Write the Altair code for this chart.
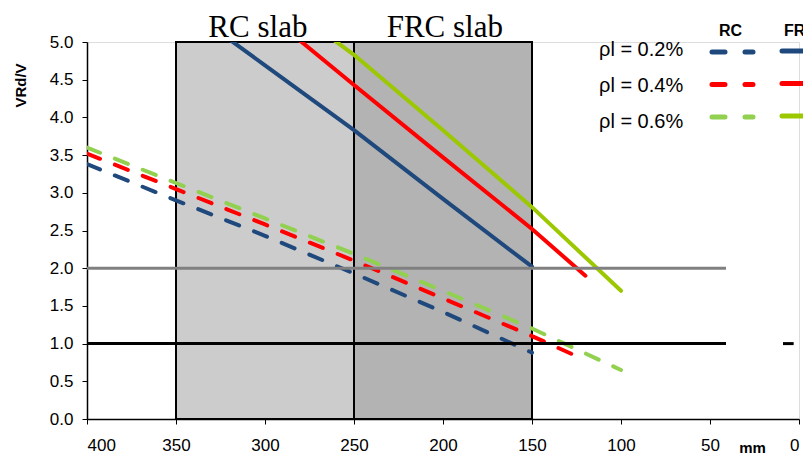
import altair as alt
import pandas as pd

# ---- data ----
rc_x_02 = [400, 350, 300, 250, 200, 150]
rc_y_02 = [3.38, 2.90, 2.43, 1.93, 1.42, 0.88]
rc_x_04 = [400, 350, 300, 250, 200, 150, 120]
rc_y_04 = [3.52, 3.05, 2.58, 2.10, 1.60, 1.10, 0.78]
rc_x_06 = [400, 350, 300, 250, 200, 150, 100]
rc_y_06 = [3.60, 3.13, 2.66, 2.19, 1.70, 1.20, 0.65]

frc_x_02 = [350, 300, 250, 200, 150]
frc_y_02 = [5.55, 4.69, 3.83, 2.92, 2.02]
frc_x_04 = [300, 250, 200, 150, 120]
frc_y_04 = [5.40, 4.43, 3.47, 2.52, 1.90]
frc_x_06 = [300, 250, 200, 150, 100]
frc_y_06 = [5.70, 4.83, 3.83, 2.81, 1.70]

series_names = ["ρl = 0.2%", "ρl = 0.4%", "ρl = 0.6%"]

slab_names = ["RC slab", "FRC slab"]
slab_from = [350, 250]
slab_to = [250, 150]
slab_title_at = [304, 199]

ref_levels = [2.0, 1.0]
ref_from = [400, 400]
ref_to = [41, 41]

x_ticks = [400, 350, 300, 250, 200, 150, 100, 50, 0]
y_ticks = [0.0, 0.5, 1.0, 1.5, 2.0, 2.5, 3.0, 3.5, 4.0, 4.5, 5.0]

# ---- styles ----
rc_colors = ["#1F497D", "#FF0000", "#92D050"]
frc_colors = ["#1F497D", "#FF0000", "#9BC800"]
slab_fills = ["#CCCCCC", "#B3B3B3"]
ref_colors = ["#808080", "#000000"]

def long_df(xs_list, ys_list, names):
    rows = []
    for xs, ys, n in zip(xs_list, ys_list, names):
        for x, y in zip(xs, ys):
            rows.append({"x": x, "y": y, "series": n})
    return pd.DataFrame(rows)

rc_df = long_df([rc_x_02, rc_x_04, rc_x_06], [rc_y_02, rc_y_04, rc_y_06], series_names)
frc_df = long_df([frc_x_02, frc_x_04, frc_x_06], [frc_y_02, frc_y_04, frc_y_06], series_names)

slab_df = pd.DataFrame({"name": slab_names, "x1": slab_from, "x2": slab_to,
                        "mid": slab_title_at, "fill": slab_fills,
                        "zero": [0, 0], "top": [5, 5]})
ref_df = pd.DataFrame({"level": ref_levels, "x1": ref_from, "x2": ref_to, "c": ref_colors})
mark_df = pd.DataFrame({"level": [1.0], "x1": [9], "x2": [3]})

xscale = alt.Scale(domain=[400, 0], nice=False, zero=False)
yscale = alt.Scale(domain=[0, 5], nice=False)

xaxis = alt.Axis(values=x_ticks, title="mm", titleFontWeight="bold", titleFontSize=15,
                 titleX=665, titleY=28, titleBaseline="middle", titleAlign="center",
                 labelOverlap=False)
yaxis = alt.Axis(values=y_ticks, format=".1f", title="VRd/V", titleFontWeight="bold",
                 titleFontSize=15, titleAngle=270, titleX=-67, titleY=43,
                 titleAlign="center", titleBaseline="middle", labelOverlap=False,
                 tickCount=11)

def X(field):
    return alt.X(field, scale=xscale, axis=xaxis)

def Y(field):
    return alt.Y(field, scale=yscale, axis=yaxis)

rects = alt.Chart(slab_df).mark_rect(stroke="black", strokeWidth=2).encode(
    x=X("x1:Q"),
    x2="x2:Q",
    y=Y("zero:Q"),
    y2="top:Q",
    color=alt.Color("fill:N", scale=None),
)

slab_titles = alt.Chart(slab_df).mark_text(font="Liberation Serif", fontSize=31,
                                           baseline="alphabetic", color="black").encode(
    x=X("mid:Q"),
    y=alt.value(-5),
    text="name:N",
)

rc_lines = alt.Chart(rc_df).mark_line(strokeWidth=4, strokeDash=[14, 16], strokeCap="round",
                                      clip=True).encode(
    x=X("x:Q"),
    y=Y("y:Q"),
    color=alt.Color("series:N", scale=alt.Scale(domain=series_names, range=rc_colors), legend=None),
    detail="series:N",
)
frc_lines = alt.Chart(frc_df).mark_line(strokeWidth=4, strokeCap="round", clip=True).encode(
    x=X("x:Q"),
    y=Y("y:Q"),
    color=alt.Color("series:N", scale=alt.Scale(domain=series_names, range=frc_colors), legend=None),
    detail="series:N",
)

refs = alt.Chart(ref_df).mark_rule(strokeWidth=3).encode(
    x=X("x1:Q"),
    x2="x2:Q",
    y=Y("level:Q"),
    color=alt.Color("c:N", scale=None),
)
small_mark = alt.Chart(mark_df).mark_rule(strokeWidth=3, color="black").encode(
    x=X("x1:Q"),
    x2="x2:Q",
    y=Y("level:Q"),
)

# ---- hand-built legend (pixel positions within the plot area) ----
n = len(series_names)
leg_text_df = pd.DataFrame({"label": series_names,
                            "lx": [512] * n,
                            "ly": [8 + 36 * i for i in range(n)]})
leg_rc_df = pd.DataFrame({"lx": [625] * n, "lx2": [666] * n,
                          "ly": [10 + 32.5 * i for i in range(n)], "c": rc_colors})
leg_frc_df = pd.DataFrame({"lx": [695] * n, "lx2": [760] * n,
                           "ly": [9 + 32.5 * i for i in range(n)], "c": frc_colors})
leg_head_df = pd.DataFrame({"label": ["RC", "FRC"], "lx": [632, 697], "ly": [-6, -6]})

leg_text = alt.Chart(leg_text_df).mark_text(fontSize=20, align="left", baseline="middle",
                                            color="black").encode(
    x=alt.X("lx:Q", scale=None), y=alt.Y("ly:Q", scale=None), text="label:N")
leg_head = alt.Chart(leg_head_df).mark_text(fontSize=16, fontWeight="bold", align="left",
                                            baseline="alphabetic", color="black").encode(
    x=alt.X("lx:Q", scale=None), y=alt.Y("ly:Q", scale=None), text="label:N")
leg_rc = alt.Chart(leg_rc_df).mark_rule(strokeWidth=5, strokeDash=[13, 20], strokeCap="round").encode(
    x=alt.X("lx:Q", scale=None), x2="lx2:Q", y=alt.Y("ly:Q", scale=None),
    color=alt.Color("c:N", scale=None))
leg_frc = alt.Chart(leg_frc_df).mark_rule(strokeWidth=5, strokeCap="round").encode(
    x=alt.X("lx:Q", scale=None), x2="lx2:Q", y=alt.Y("ly:Q", scale=None),
    color=alt.Color("c:N", scale=None))

chart = alt.layer(
    rects, rc_lines, frc_lines, refs, small_mark, slab_titles,
    leg_text, leg_head, leg_rc, leg_frc,
).resolve_scale(color="independent").properties(
    width=712, height=377,
    autosize=alt.AutoSizeParams(type="none"),
    padding={"left": 87, "top": 42, "right": 4, "bottom": 35},
).configure_view(stroke=None).configure(font="Liberation Sans").configure_axis(
    labelFontSize=17, labelFont="Liberation Sans", labelColor="black",
    titleColor="black", titleFont="Liberation Sans",
    domainColor="black", domainWidth=1.5, tickColor="black", tickSize=5,
    grid=False, labelOverlap=False,
).configure_axisX(labelPadding=13).configure_axisY(labelPadding=9)

chart.save("out.html", embed_options={"renderer": "svg", "actions": False})
